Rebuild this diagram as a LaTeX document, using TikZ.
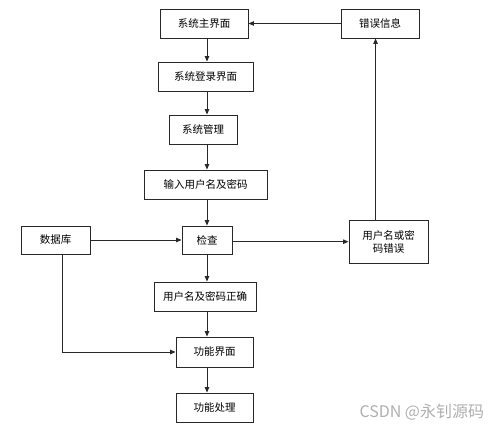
\documentclass[tikz,border=0pt]{standalone}
\usepackage{fontspec}
\setmainfont{Noto Sans CJK SC}
\usepackage{tikz}
\usetikzlibrary{arrows.meta,calc,positioning}
\definecolor{lineGray}{RGB}{40,40,40}
\definecolor{markGray}{RGB}{175,175,175}
\tikzset{
  box/.style={draw=lineGray, line width=0.9pt, inner sep=0pt, minimum height=29pt, font=\fontsize{10.5pt}{13pt}\selectfont, align=center},
  flowArrow/.style={-{Triangle[length=5.5pt,width=4.5pt]}, draw=lineGray, line width=0.9pt},
  waterMark/.style={text=markGray, font=\fontsize{16pt}{18pt}\selectfont}
}
\begin{document}
\begin{tikzpicture}[x=1pt,y=-1pt]
  \useasboundingbox (0,0) rectangle (501,431);
  \coordinate (spine) at (207,0);

  \node[box,minimum width=88pt] (main) at (204,23.5) {系统主界面};
  \node[box,minimum width=78pt] (errInfo) at (380,23.5) {错误信息};
  \node[box,minimum width=95pt] (login) at (205.5,76.5) {系统登录界面};
  \node[box,minimum width=68pt] (manage) at (203,129.5) {系统管理};
  \node[box,minimum width=123pt] (input) at (205.5,184.5) {输入用户名及密码};
  \node[box,minimum width=69pt,minimum height=28pt] (db) at (55.5,240) {数据库};
  \node[box,minimum width=50pt,minimum height=28pt] (check) at (207,240) {检查};
  \node[box,minimum width=79pt,minimum height=43pt] (wrong) at (388.5,241.5) {用户名或密\\码错误};
  \node[box,minimum width=102pt] (right) at (205,296.5) {用户名及密码正确};
  \node[box,minimum width=77pt,minimum height=30pt] (func) at (214.5,352) {功能界面};
  \node[box,minimum width=77pt] (handle) at (214.5,407.5) {功能处理};

  \draw[flowArrow] (main.south -| spine) -- (login.north -| spine);
  \draw[flowArrow] (login.south -| spine) -- (manage.north -| spine);
  \draw[flowArrow] (manage.south -| spine) -- (input.north -| spine);
  \draw[flowArrow] (input.south -| spine) -- (check.north -| spine);
  \draw[flowArrow] (check.south -| spine) -- (right.north -| spine);
  \draw[flowArrow] (right.south -| spine) -- (func.north -| spine);
  \draw[flowArrow] (func.south -| spine) -- (handle.north -| spine);
  \draw[flowArrow] (db) -- (check);
  \draw[flowArrow] ($(check.east)+(0,1.7)$) -- ($(wrong.west)+(0,0.2)$);
  \draw[flowArrow] ($(db.south west)+(42,0)$) |- (func.west);
  \draw[flowArrow] ($(wrong.north west)+(27,0)$) -- ($(errInfo.south west)+(35,0)$);
  \draw[flowArrow] (errInfo) -- (main);

  \node[waterMark,anchor=west] (csdn) at (356,412) {CSDN @永钊源码};
\end{tikzpicture}
\end{document}
